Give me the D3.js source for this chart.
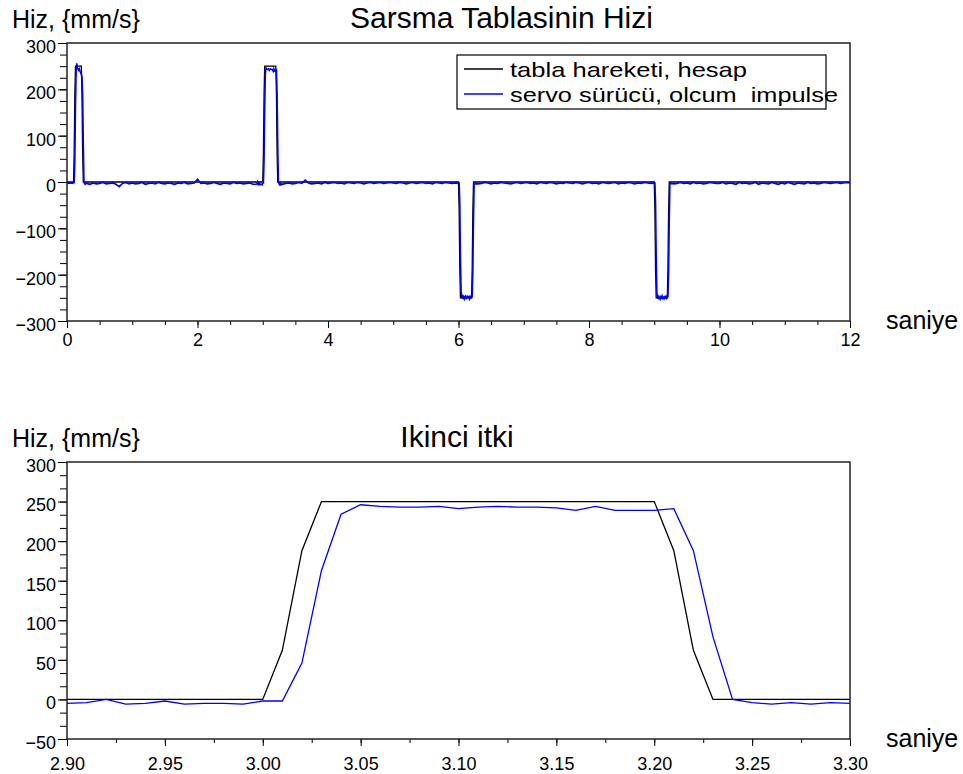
<!DOCTYPE html>
<html>
<head>
<meta charset="utf-8">
<script src="https://cdn.jsdelivr.net/npm/d3@7"></script>
<style>
  body { margin: 0; background: #fff; }
  text { font-family: "Liberation Sans", Arial, sans-serif; }
</style>
</head>
<body>
<div id="chart"></div>
<script>
// calculated table motion (black line), breakpoints in seconds / mm/s
var calcT = [0, 0.10, 0.11, 0.12, 0.13, 0.22, 0.23, 0.24, 0.25,
             3.00, 3.01, 3.02, 3.03, 3.20, 3.21, 3.22, 3.23,
             6.00, 6.01, 6.02, 6.03, 6.20, 6.21, 6.22, 6.23,
             9.00, 9.01, 9.02, 9.03, 9.20, 9.21, 9.22, 9.23, 12];
var calcV = [0, 0, 62, 188, 250, 250, 188, 62, 0,
             0, 62, 188, 250, 250, 188, 62, 0,
             0, -62, -188, -250, -250, -188, -62, 0,
             0, -62, -188, -250, -250, -188, -62, 0, 0];

// measured servo signal (blue line): baseline read every 0.05 s
var blueBaseStep = 0.05;
var blueBase = [
  -3,-2,-4,-1,-3,-2,-3,-5,-2,-4,-3,-1,-4,-3,-2,-5,-10,-3,-1,-4,
  -2,-4,-3,-1,-5,-3,-2,-4,-1,-3,-4,-2,-3,-5,-2,-3,-1,-4,-3,-2,
  6,-3,-2,-4,-3,-1,-3,-5,-2,-3,-4,-1,-3,-2,-4,-3,-2,-5,-3,-2,
  -3,-2,-4,-3,-2,-4,-5,-3,-2,-4,-3,-1,-3,4,-2,-4,-3,-2,-4,-1,
  -3,-2,-1,-3,-2,-4,-1,-2,-3,-1,-2,-4,-2,-1,-3,-2,-1,-3,-2,-1,
  -2,-3,-1,-2,-4,-2,-1,-3,-2,-1,-3,-2,-4,-1,-2,-3,-1,-2,-3,-2,
  -2,-3,-2,-4,-3,-2,-4,-3,-1,-2,-4,-2,-3,-1,-2,-3,-4,-2,-1,-3,
  -2,-1,-3,-2,-4,-1,-2,-3,-1,-2,-4,-2,-3,-1,-2,-3,-1,-2,-4,-2,
  -1,-3,-2,-4,-1,-2,-3,-2,-1,-4,-2,-3,-1,-2,-4,-2,-3,-1,-2,-3,
  -2,-3,-2,-4,-3,-2,-4,-3,-1,-3,-2,-4,-1,-3,-2,-4,-3,-1,-2,-3,
  -3,-1,-4,-2,-3,-5,-1,-3,-2,-4,-3,-1,-5,-2,-3,-4,-1,-3,-5,-2,
  -4,-1,-3,-5,-2,-3,-4,-1,-3,-2,-4,-3,-1,-2,-3,-2,-1,-3,-2,-1,
  -2
];
// pulses read every 0.01 s, starting at pulseStart
var pulseStart = [0.08, 2.90, 5.98, 8.98];
var bluePulse1 = [-3,-2,-2,-1,46,165,240,256,246,243,241,244,239,236,232,226,186,80,0,-4,-5,-3];
var bluePulse2 = [-5,-4,0,-6,-5,-2,-6,-5,-5,-6,-2,-2,46,163,234,246,244,243,243,244,
                  241,243,244,243,243,242,239,244,239,239,239,241,188,79,0,-4,-6,-4,-6,-4,-5];
var bluePulse3 = [-3,-2,-2,-2,-46,-165,-236,-248,-246,-250,-247,-252,-248,-246,-251,
                  -249,-247,-250,-248,-252,-247,-249,-250,-246,-190,-80,0,-3,-4];
var bluePulse4 = [-2,-3,-1,-2,-45,-160,-238,-249,-251,-247,-250,-253,-248,-250,-246,
                  -251,-249,-252,-248,-250,-247,-251,-249,-247,-192,-82,0,-4,-3];

var topXTicks = [0, 2, 4, 6, 8, 10, 12];
var topYTicks = [-300, -200, -100, 0, 100, 200, 300];
var botXTicks = [2.90, 2.95, 3.00, 3.05, 3.10, 3.15, 3.20, 3.25, 3.30];
var botYTicks = [-50, 0, 50, 100, 150, 200, 250, 300];
var legendLabels = ["tabla hareketi, hesap", "servo sürücü, olcum  impulse"];
var legendColors = ["#000", "#0000ff"];

var width = 963, height = 774;

var svg = d3.select("#chart").append("svg")
  .attr("width", width)
  .attr("height", height)
  .style("background", "#fff");

// assemble series
var calc = calcT.map(function(t, i) { return {t: t, v: calcV[i]}; });

var pulses = [bluePulse1, bluePulse2, bluePulse3, bluePulse4];
var windows = pulses.map(function(p, i) { return [pulseStart[i], pulseStart[i] + (p.length - 1) * 0.01]; });
var blue = [];
blueBase.forEach(function(v, i) {
  var t = i * blueBaseStep;
  var inside = windows.some(function(w) { return t >= w[0] - 1e-9 && t <= w[1] + 1e-9; });
  if (!inside) blue.push({t: t, v: v});
});
pulses.forEach(function(p, i) {
  p.forEach(function(v, j) { blue.push({t: pulseStart[i] + j * 0.01, v: v}); });
});
blue.sort(function(a, b) { return a.t - b.t; });

function panel(o) {
  var x = d3.scaleLinear().domain(o.xDomain).range([o.left, o.right]);
  var y = d3.scaleLinear().domain(o.yDomain).range([o.bottom, o.top]);
  var g = svg.append("g");

  g.append("clipPath").attr("id", o.id)
    .append("rect")
      .attr("x", o.left).attr("y", o.top)
      .attr("width", o.right - o.left).attr("height", o.bottom - o.top);

  // minor ticks
  g.append("g")
    .attr("transform", "translate(0," + o.bottom + ")")
    .call(d3.axisBottom(x).tickValues(o.xMinor).tickSize(4).tickFormat(""))
    .call(function(a) { a.select(".domain").remove(); });
  g.append("g")
    .attr("transform", "translate(" + o.left + ",0)")
    .call(d3.axisLeft(y).tickValues(o.yMinor).tickSize(7).tickFormat(""))
    .call(function(a) { a.select(".domain").remove(); });

  // major ticks + labels
  var xa = g.append("g")
    .attr("transform", "translate(0," + o.bottom + ")")
    .call(d3.axisBottom(x).tickValues(o.xTicks).tickSize(7).tickPadding(o.xPad).tickFormat(o.xFormat));
  var ya = g.append("g")
    .attr("transform", "translate(" + o.left + ",0)")
    .call(d3.axisLeft(y).tickValues(o.yTicks).tickSize(9).tickPadding(2).tickFormat(d3.format("d")));
  [xa, ya].forEach(function(a) {
    a.select(".domain").remove();
    a.attr("font-family", null).attr("font-size", null);
    a.selectAll("text").style("font-size", "18px").attr("fill", "#000");
    a.selectAll("line").attr("stroke", "#000");
  });
  ya.selectAll("text").attr("dy", "0.52em");

  var line = d3.line()
    .x(function(d) { return x(d.t); })
    .y(function(d) { return y(d.v); });

  var plot = g.append("g").attr("clip-path", "url(#" + o.id + ")");
  plot.append("path")
    .datum(calc)
    .attr("fill", "none")
    .attr("stroke", "#000")
    .attr("stroke-width", 1.3)
    .attr("d", line);
  plot.append("path")
    .datum(blue.filter(function(d) { return d.t >= o.xDomain[0] - 0.05 && d.t <= o.xDomain[1] + 0.05; }))
    .attr("fill", "none")
    .attr("stroke", "#0000ff")
    .attr("stroke-width", o.blueWidth)
    .attr("d", line);

  // frame
  g.append("rect")
    .attr("x", o.left).attr("y", o.top)
    .attr("width", o.right - o.left).attr("height", o.bottom - o.top)
    .attr("fill", "none")
    .attr("stroke", "#222")
    .attr("stroke-width", 1.5);

  // texts
  g.append("text").attr("x", 12).attr("y", o.top - 15)
    .style("font-size", "25px").text("Hiz, {mm/s}");
  g.append("text").attr("x", o.titleX).attr("y", o.top - 15)
    .attr("text-anchor", o.titleAnchor)
    .style("font-size", "30px").text(o.title);
  g.append("text").attr("x", 886).attr("y", o.bottom + 8)
    .style("font-size", "25px").text("saniye");

  return {x: x, y: y};
}

panel({
  id: "clipTop", left: 67, right: 850, top: 43, bottom: 321,
  xDomain: [0, 12], yDomain: [-300, 300],
  xTicks: topXTicks, yTicks: topYTicks,
  xMinor: d3.range(0, 12.001, 0.5), yMinor: d3.range(-300, 300.1, 25),
  xFormat: d3.format("d"), xPad: 5, blueWidth: 1.6,
  title: "Sarsma Tablasinin Hizi", titleX: 350, titleAnchor: "start"
});

panel({
  id: "clipBot", left: 67, right: 850, top: 462, bottom: 739,
  xDomain: [2.90, 3.30], yDomain: [-50, 300],
  xTicks: botXTicks, yTicks: botYTicks,
  xMinor: d3.range(2.90, 3.3001, 0.025), yMinor: d3.range(-50, 300.1, 50 / 3),
  xFormat: d3.format(".2f"), xPad: 11, blueWidth: 1.3,
  title: "Ikinci itki", titleX: 457, titleAnchor: "middle"
});

// legend (top chart)
var legWidths = [237, 328];
var leg = svg.append("g");
leg.append("rect")
  .attr("x", 457).attr("y", 55)
  .attr("width", 369).attr("height", 54)
  .attr("fill", "#fff")
  .attr("stroke", "#000")
  .attr("stroke-width", 1.2);
legendLabels.forEach(function(label, i) {
  var yy = 69 + i * 25;
  leg.append("line")
    .attr("x1", 464).attr("x2", 503)
    .attr("y1", yy).attr("y2", yy)
    .attr("stroke", legendColors[i])
    .attr("stroke-width", 1.3);
  leg.append("text")
    .attr("x", 510).attr("y", yy + 8)
    .attr("textLength", legWidths[i])
    .attr("lengthAdjust", "spacingAndGlyphs")
    .style("font-size", "21px")
    .style("white-space", "pre")
    .text(label);
});
</script>
</body>
</html>
